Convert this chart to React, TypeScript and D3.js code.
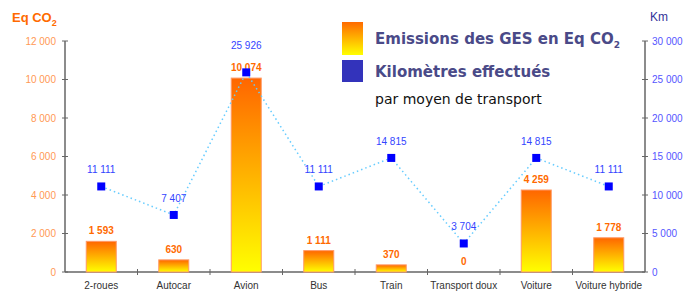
import React from "react";
import * as d3 from "d3";

const categories = ["2-roues", "Autocar", "Avion", "Bus", "Train", "Transport doux", "Voiture", "Voiture hybride"];
const emissions = [1593, 630, 10074, 1111, 370, 0, 4259, 1778];
const kilometres = [11111, 7407, 25926, 11111, 14815, 3704, 14815, 11111];
const leftTicks = [0, 2000, 4000, 6000, 8000, 10000, 12000];
const rightTicks = [0, 5000, 10000, 15000, 20000, 25000, 30000];

const W = 687, H = 293;
const M = { left: 65, right: 645, top: 41, bottom: 272 };
const fmt = (v: number) => d3.format(",")(v).replace(/,/g, " ");
const FONT = "'Liberation Sans', Arial, sans-serif";
const LFONT = "'DejaVu Sans', Verdana, sans-serif";

export default function App() {
  const x = d3.scaleBand<string>().domain(categories).range([M.left, M.right]).paddingInner(0).paddingOuter(0);
  const yL = d3.scaleLinear().domain([0, 12000]).range([M.bottom, M.top]);
  const yR = d3.scaleLinear().domain([0, 30000]).range([M.bottom, M.top]);
  const bw = 30;
  const line = d3.line<number>()
    .x((_, i) => (x(categories[i]) as number) + x.bandwidth() / 2)
    .y((d) => yR(d));

  return (
    <svg width={W} height={H} style={{ position: "absolute", left: 0, top: 0, fontFamily: FONT }}>
      <defs>
        <linearGradient id="barGrad" x1="0" y1="0" x2="0" y2="1">
          <stop offset="0%" stopColor="#ff6600" />
          <stop offset="100%" stopColor="#ffff00" />
        </linearGradient>
        <linearGradient id="legGrad" x1="0" y1="0" x2="0" y2="1">
          <stop offset="0%" stopColor="#ff6a00" />
          <stop offset="100%" stopColor="#ffff00" />
        </linearGradient>
      </defs>

      {/* axis titles */}
      <text x={12} y={22} fill="#ff6a00" fontSize={13} fontWeight="bold">
        Eq CO<tspan fontSize={9} dy={4}>2</tspan>
      </text>
      <text x={650} y={21} fill="#333399" fontSize={12}>Km</text>

      {/* left axis */}
      <line x1={M.left} x2={M.left} y1={M.top} y2={M.bottom} stroke="#666" strokeWidth={1.5} />
      {leftTicks.map((t) => (
        <g key={"l" + t}>
          <line x1={M.left - 3} x2={M.left + 3} y1={yL(t)} y2={yL(t)} stroke="#666" />
          <text x={56} y={yL(t) + 3.5} textAnchor="end" fontSize={10} fill="#ff9955">{fmt(t)}</text>
        </g>
      ))}

      {/* right axis */}
      <line x1={M.right} x2={M.right} y1={M.top} y2={M.bottom} stroke="#666" strokeWidth={1.5} />
      {rightTicks.map((t) => (
        <g key={"r" + t}>
          <line x1={M.right - 3} x2={M.right + 3} y1={yR(t)} y2={yR(t)} stroke="#666" />
          <text x={652} y={yR(t) + 3.5} textAnchor="start" fontSize={10} fill="#5555ff">{fmt(t)}</text>
        </g>
      ))}

      {/* x axis */}
      <line x1={M.left} x2={M.right} y1={M.bottom} y2={M.bottom} stroke="#666" strokeWidth={1.5} />
      {categories.map((c, i) => (
        <g key={"x" + c}>
          {i > 0 && <line x1={x(c)} x2={x(c)} y1={M.bottom - 3} y2={M.bottom + 3} stroke="#666" />}
          <text x={(x(c) as number) + x.bandwidth() / 2} y={289} textAnchor="middle" fontSize={10} fill="#333">{c}</text>
        </g>
      ))}

      {/* bars */}
      {categories.map((c, i) => {
        const cx = (x(c) as number) + x.bandwidth() / 2;
        const top = yL(emissions[i]);
        return (
          <g key={"b" + c}>
            {emissions[i] > 0 && (
              <rect x={cx - bw / 2} y={top} width={bw} height={M.bottom - top} fill="url(#barGrad)" stroke="#ff9966" strokeWidth={1} />
            )}
            <text x={cx} y={top - 7} textAnchor="middle" fontSize={10} fontWeight="bold" fill="#ff6a00">{fmt(emissions[i])}</text>
          </g>
        );
      })}

      {/* km line */}
      <path d={line(kilometres) || ""} fill="none" stroke="#66ccff" strokeWidth={1.5} strokeDasharray="1.5,3" />
      {categories.map((c, i) => {
        const cx = (x(c) as number) + x.bandwidth() / 2;
        const py = yR(kilometres[i]);
        const barLabelY = yL(emissions[i]) - 7;
        let ly = py - 13;
        if (Math.abs(ly - barLabelY) < 20) ly = barLabelY - 22;
        return (
          <g key={"p" + c}>
            <rect x={cx - 4} y={py - 4} width={8} height={8} fill="#0000ff" />
            <text x={cx} y={ly} textAnchor="middle" fontSize={10} fill="#3344ff">{fmt(kilometres[i])}</text>
          </g>
        );
      })}

      {/* legend */}
      <rect x={342} y={22} width={21} height={33} fill="url(#legGrad)" />
      <text x={375} y={44} fontSize={15} fontWeight="bold" fill="#4a4a88" fontFamily={LFONT}>
        Emissions des GES en Eq CO<tspan fontSize={9} dy={4}>2</tspan>
      </text>
      <rect x={342} y={60} width={21} height={22} fill="#3333bb" />
      <text x={375} y={77} fontSize={15} fontWeight="bold" fill="#4a4a88" fontFamily={LFONT}>Kilomètres effectués</text>
      <text x={375} y={104} fontSize={14} fill="#111" fontFamily={LFONT}>par moyen de transport</text>
    </svg>
  );
}
